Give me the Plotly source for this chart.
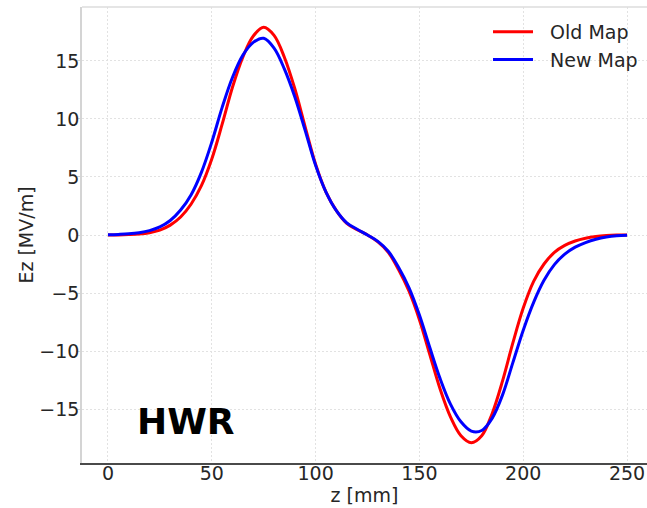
import plotly.graph_objects as go

# z positions [mm]
z_mm = [0, 5, 10, 15, 20, 25, 30, 35, 40, 45, 50, 55, 60, 65, 70, 75, 80, 85, 90, 95,
        100, 105, 110, 115, 120, 125, 130, 135, 140, 145, 150, 155, 160, 165, 170, 175,
        180, 185, 190, 195, 200, 205, 210, 215, 220, 225, 230, 235, 240, 245, 250]

# Ez [MV/m] - Old Map
ez_old = [0.00, 0.01, 0.04, 0.09, 0.2, 0.42, 0.85, 1.55, 2.65, 4.25, 6.55, 9.55, 12.75,
          15.35, 17.15, 17.9, 17.2, 15.3, 12.6, 9.3, 6.1, 3.7, 2.1, 1.0, 0.45, 0.0,
          -0.6, -1.5, -3.0, -4.85, -7.3, -10.3, -13.3, -15.7, -17.3, -17.9, -17.3,
          -15.4, -12.6, -9.3, -6.3, -4.0, -2.5, -1.5, -0.9, -0.52, -0.28, -0.13,
          -0.05, -0.01, 0.0]

# Ez [MV/m] - New Map
ez_new = [0.02, 0.05, 0.1, 0.2, 0.38, 0.7, 1.25, 2.15, 3.45, 5.4, 8.0, 11.0, 13.6, 15.5,
          16.6, 16.95, 16.1, 14.3, 11.9, 9.0, 6.0, 3.7, 2.1, 1.05, 0.5, 0.0,
          -0.55, -1.4, -2.8, -4.55, -6.9, -9.7, -12.4, -14.6, -16.1, -16.9, -16.85,
          -15.8, -13.8, -11.0, -8.2, -5.8, -3.9, -2.55, -1.65, -1.05, -0.65, -0.36,
          -0.17, -0.06, -0.02]

x_ticks = [0, 50, 100, 150, 200, 250]
y_ticks = [-15, -10, -5, 0, 5, 10, 15]
y_tick_labels = ["\u221215", "\u221210", "\u22125", "0", "5", "10", "15"]

FONT = "DejaVu Sans"
FS = 19

fig = go.Figure()
fig.add_trace(go.Scatter(x=z_mm, y=ez_old, mode="lines", name="\u00a0\u00a0Old Map",
                         line=dict(color="#ff0000", width=3, shape="spline", smoothing=1)))
fig.add_trace(go.Scatter(x=z_mm, y=ez_new, mode="lines", name="\u00a0\u00a0New Map",
                         line=dict(color="#0000ff", width=3, shape="spline", smoothing=1)))

fig.add_annotation(x=13.0, y=-16.1, xref="x", yref="y", text="<b>HWR</b>",
                   showarrow=False, xanchor="left", yanchor="middle",
                   font=dict(family=FONT, size=36, color="#000000"))

fig.add_shape(type="line", xref="paper", yref="paper", x0=0, x1=1, y0=1, y1=1,
              line=dict(color="#dcdcdc", width=1.5))

GRID = dict(showgrid=True, gridcolor="#e2e2e2", griddash="2px,2px", gridwidth=1)

fig.update_layout(
    width=647, height=508,
    margin=dict(l=82, r=0, t=7, b=45),
    paper_bgcolor="white", plot_bgcolor="white",
    font=dict(family=FONT, size=FS, color="#262626"),
    showlegend=True,
    legend=dict(x=0.7186, y=0.987, xanchor="left", yanchor="top",
                bgcolor="rgba(0,0,0,0)", font=dict(family=FONT, size=FS, color="#262626"),
                itemwidth=40),
    xaxis=dict(range=[-12.5, 259.6], tickvals=x_ticks, **GRID,
               showline=True, linecolor="#4a4a4a", linewidth=1.5,
               ticks="", ticklabelstandoff=-8,
               zeroline=False, tickfont=dict(size=FS),
               title=dict(text="z [mm]", font=dict(size=FS), standoff=6)),
    yaxis=dict(range=[-19.65, 19.65], tickvals=y_ticks, ticktext=y_tick_labels, **GRID,
               showline=True, linecolor="#d4d4d4", linewidth=1.5,
               ticks="outside", ticklen=4, tickcolor="#d4d4d4", ticklabelstandoff=-7,
               zeroline=False, tickfont=dict(size=FS),
               title=dict(text="Ez [MV/m]", font=dict(size=FS), standoff=1)),
)

fig.write_html("out.html")
